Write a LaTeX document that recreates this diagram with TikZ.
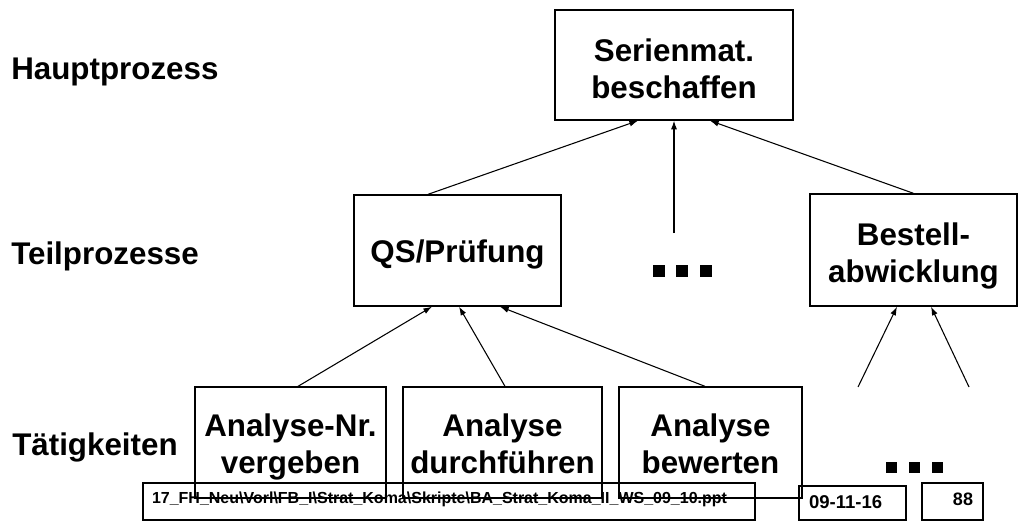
\documentclass[tikz,border=0pt]{standalone}
\usepackage{fontspec}
\setmainfont{Liberation Sans}
\usepackage{tikz}
\usetikzlibrary{arrows.meta}
\usetikzlibrary{calc}
\tikzset{
  procbox/.style={draw, line width=1pt, align=center, inner sep=0pt,
    font=\bfseries\fontsize{23.5}{27.75}\selectfont},
  levellabel/.style={anchor=base west, inner sep=0pt,
    font=\bfseries\fontsize{23.5}{27.75}\selectfont},
  footbox/.style={draw, line width=1pt, inner ysep=0pt},
  uparrow/.style={line width=0.8pt, -{Latex[length=6.5pt,width=4.5pt]}}
}

\begin{document}
\begin{tikzpicture}[x=0.75pt,y=-0.75pt]
\useasboundingbox (0,0) rectangle (1019,521);

\node[levellabel] (haupt label) at (11,79) {Hauptprozess};
\node[levellabel] (teil label) at (11,264) {Teilprozesse};
\node[levellabel] (taet label) at (12,455) {Tätigkeiten};

\node[procbox, minimum width=178.5pt, text height=66pt, text depth=16.5pt] (serienmat) at (674,65) {Serienmat.\\beschaffen};
\node[procbox, minimum width=155.25pt, text height=50.25pt, text depth=33pt] (qs) at (457.5,250.5) {QS/Prüfung};
\node[procbox, minimum width=155.25pt, text height=66pt, text depth=18pt] (bestell) at (913.5,250) {Bestell-\\abwicklung};
\node[procbox, minimum width=143.25pt, text height=64.5pt, text depth=18.75pt] (analysenr) at (290.5,442.5) {Analyse-Nr.\\vergeben};
\node[procbox, minimum width=149.25pt, text height=64.5pt, text depth=18.75pt] (durchf) at (502.5,442.5) {Analyse\\durchführen};
\node[procbox, minimum width=137.25pt, text height=64.5pt, text depth=18.75pt] (bewerten) at (710.5,442.5) {Analyse\\bewerten};

\coordinate (dots top) at (674,233);
\coordinate (dots left) at (858,387);
\coordinate (dots right) at (969,387);

\draw[uparrow] ($(qs.north)+(-29.5,0)$) -- ($(serienmat.south)+(-36,0)$);
\draw[uparrow] (dots top) -- (serienmat.south);
\draw[uparrow] (bestell.north) -- ($(serienmat.south)+(36,0)$);

\draw[uparrow] ($(analysenr.north)+(7.5,0)$) -- ($(qs.south)+(-25.5,0)$);
\draw[uparrow] ($(durchf.north)+(2.5,0)$) -- ($(qs.south)+(1.5,0)$);
\draw[uparrow] ($(bewerten.north)+(-5.5,0)$) -- ($(qs.south)+(42.5,0)$);

\draw[uparrow] (dots left) -- ($(bestell.south)+(-16.5,0)$);
\draw[uparrow] (dots right) -- ($(bestell.south)+(17.5,0)$);

\foreach \x in {653,676,700}
  \fill (\x,265) rectangle ++(12,12);
\foreach \x in {886,909,932}
  \fill (\x,462) rectangle ++(11,11);

\node[footbox, minimum width=459pt, inner xsep=6.75pt, text width=445.5pt, align=left,
  text height=15pt, text depth=12.75pt,
  font=\bfseries\fontsize{12}{14}\selectfont] (pfad) at (449,501.5)
  {17\_FH\_Neu\textbackslash Vorl\textbackslash FB\_I\textbackslash Strat\_Koma\textbackslash Skripte\textbackslash BA\_Strat\_Koma\_II\_WS\_09\_10.ppt};
\node[footbox, minimum width=80.25pt, inner xsep=7.5pt, text width=65.25pt, align=left,
  text height=16.5pt, text depth=9pt,
  font=\bfseries\fontsize{13.9}{16}\selectfont] (datum) at (852.5,503) {09-11-16};
\node[footbox, minimum width=45.75pt, inner xsep=7.5pt, text width=30.75pt, align=right,
  text height=16.5pt, text depth=11.25pt,
  font=\bfseries\fontsize{13.5}{16}\selectfont] (seite) at (952.5,501.5) {88};
\end{tikzpicture}
\end{document}
